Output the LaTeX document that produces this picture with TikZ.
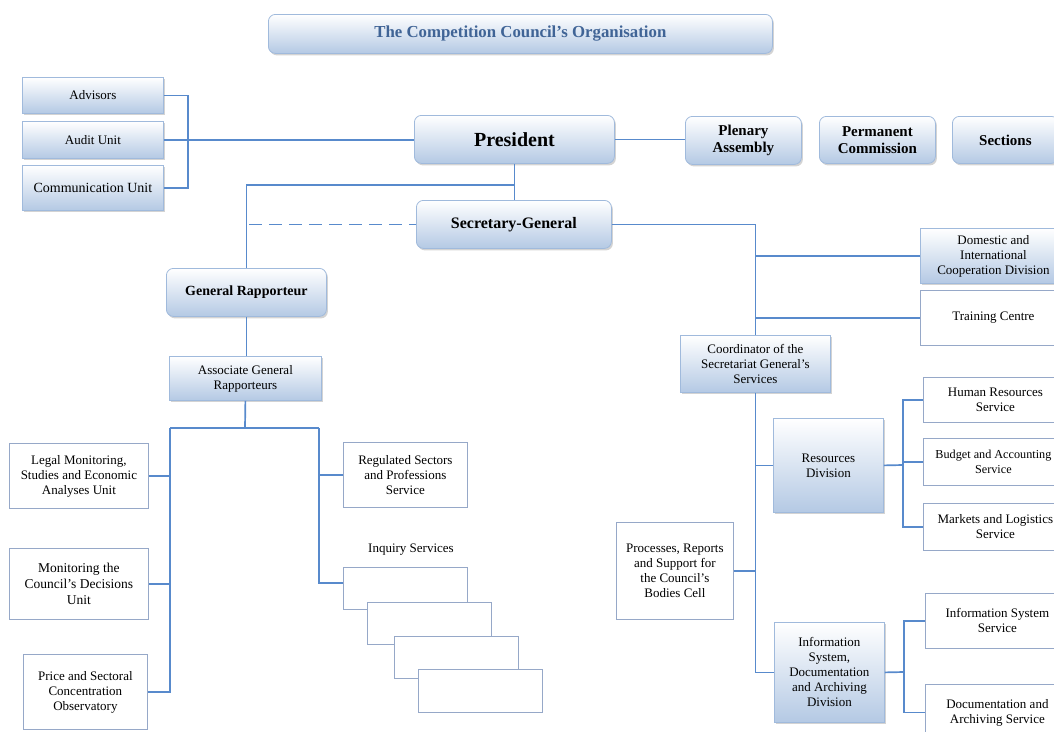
\documentclass[tikz,border=0pt]{standalone}
\usepackage{fontspec}
\setmainfont{Liberation Serif}
\usetikzlibrary{shadows}
\definecolor{linkblue}{RGB}{88,138,204}
\definecolor{boxedge}{RGB}{160,186,220}
\definecolor{boxfill}{RGB}{180,201,228}
\definecolor{plainedge}{RGB}{150,168,200}
\definecolor{titleblue}{RGB}{64,100,150}
\tikzset{every picture/.style={line width=0.75pt}}
\tikzset{
  link/.style={draw=linkblue, line width=1.7pt},
  boxsize/.style 2 args={minimum width=#1pt, minimum height=#2pt},
  shadebox/.style={draw=boxedge, line width=0.8pt, top color=white, bottom color=boxfill,
    drop shadow={shadow xshift=1.5pt, shadow yshift=-2pt, opacity=0.35},
    align=center, anchor=north west, inner sep=2pt, font=\fontsize{13}{15}\selectfont},
  roundbox/.style={shadebox, rounded corners=7pt, font=\bfseries\fontsize{15}{17}\selectfont},
  plainbox/.style={draw=plainedge, fill=white, line width=0.8pt,
    align=center, anchor=north west, inner sep=2pt, font=\fontsize{13}{15}\selectfont},
}
\begin{document}
\begin{tikzpicture}[x=1pt,y=-1pt]
    \clip (0,0) rectangle (1054,731);
    \node[roundbox, boxsize={504}{39}, text=titleblue, font=\bfseries\fontsize{16.8}{18}\selectfont] (title) at (268,14) {The Competition Council’s Organisation};
    \node[shadebox, boxsize={141}{36}] (adv) at (22,77) {Advisors};
    \node[shadebox, boxsize={141}{37}] (audit) at (22,121) {Audit Unit};
    \node[shadebox, boxsize={141}{45}, font=\fontsize{14}{16}\selectfont] (comm) at (22,165) {Communication Unit};
    \node[roundbox, boxsize={200}{48}, font=\bfseries\fontsize{20}{22}\selectfont] (pres) at (414,115) {President};
    \node[roundbox, boxsize={116}{48}] (plen) at (685,116) {Plenary\\Assembly};
    \node[roundbox, boxsize={116}{47}] (perm) at (819,116) {Permanent\\Commission};
    \node[roundbox, boxsize={106}{47}] (sect) at (952,116) {Sections};
    \node[roundbox, boxsize={195}{48}, font=\bfseries\fontsize{16}{18}\selectfont] (sg) at (416,200) {Secretary-General};
    \node[roundbox, boxsize={160}{48}, font=\bfseries\fontsize{14}{16}\selectfont] (gr) at (166,268) {General Rapporteur};
    \node[shadebox, boxsize={152}{44}] (agr) at (169,356) {Associate General\\Rapporteurs};
    \node[plainbox, boxsize={139}{65}] (legal) at (9,443) {Legal Monitoring,\\Studies and Economic\\Analyses Unit};
    \node[plainbox, boxsize={139}{71}, font=\fontsize{13.5}{16}\selectfont] (mon) at (9,548) {Monitoring the\\Council’s Decisions\\Unit};
    \node[plainbox, boxsize={124}{75}] (price) at (23,654) {Price and Sectoral\\Concentration\\Observatory};
    \node[plainbox, boxsize={124}{65}] (reg) at (343,442) {Regulated Sectors\\and Professions\\Service};
    \node[font=\fontsize{13}{15}\selectfont] (inqlabel) at (411,550) {Inquiry Services};
    \node[shadebox, boxsize={146}{55}] (dom) at (920,228) {Domestic and\\International\\Cooperation Division};
    \node[plainbox, boxsize={146}{55}] (train) at (920,290) {Training Centre};
    \node[shadebox, boxsize={150}{57}] (coord) at (680,335) {Coordinator of the\\Secretariat General’s\\Services};
    \node[plainbox, boxsize={144}{45}] (hr) at (923,377) {Human Resources\\Service};
    \node[plainbox, boxsize={140}{47}, font=\fontsize{12.2}{15}\selectfont] (bud) at (923,438) {Budget and Accounting\\Service};
    \node[plainbox, boxsize={144}{47}] (mkt) at (923,503) {Markets and Logistics\\Service};
    \node[shadebox, boxsize={110}{94}] (res) at (773,418) {Resources\\Division};
    \node[plainbox, boxsize={117}{97}] (proc) at (616,522) {Processes, Reports\\and Support for\\the Council’s\\Bodies Cell};
    \node[shadebox, boxsize={110}{100}] (isd) at (774,622) {Information\\System,\\Documentation\\and Archiving\\Division};
    \node[plainbox, boxsize={144}{55}] (iss) at (925,593) {Information System\\Service};
    \node[plainbox, boxsize={144}{56}] (das) at (925,684) {Documentation and\\Archiving Service};
    \coordinate (lb) at (188,139);
    \coordinate (pj) at (514,185);
    \coordinate (ab) at (245,428);
    \coordinate (lx) at (170,428);
    \coordinate (rx) at (319,428);
    \coordinate (rb) at (903,465);
    \coordinate (ib) at (904,672);
    \draw[link] (adv.east) -| (lb) |- (comm.east);
    \draw[link] (audit.east) -- (audit.east -| pres.west);
    \draw[link] (pres.east) -- (pres.east -| plen.west);
    \draw[link] (pres.south) -- (pres.south |- sg.north);
    \draw[link] (pj) -| (gr.north);
    \draw[link, dash pattern=on 13pt off 7pt] ([xshift=3pt]gr.north |- sg.west) -- (sg.west);
    \draw[link] (gr.south |- agr.north) -- (gr.south);
    \draw[link] (agr.south) -- (ab);
    \draw[link] (lx) -- (rx);
    \draw[link] (legal.east) -- (legal.east -| lx);
    \draw[link] (mon.east) -- (mon.east -| lx);
    \draw[link] (lx) |- (price.east);
    \draw[link] (reg.west) -- (reg.west -| rx);
    \draw[link] (rx) |- ([yshift=5pt]343,588);
    \draw[link] (sg.east) -| (coord.north);
    \draw[link] (dom.west) -- (dom.west -| coord.north);
    \draw[link] (train.west) -- (train.west -| coord.north);
    \draw[link] (coord.south) |- (isd.west);
    \draw[link] (res.west) -- (res.west -| coord.south);
    \draw[link] (proc.east) -- (proc.east -| coord.south);
    \draw[link] (res.east) -- (rb);
    \draw[link] (hr.west) -| (rb) |- (mkt.west);
    \draw[link] (bud.west) -- (bud.west -| rb);
    \draw[link] (isd.east) -- (ib);
    \draw[link] (iss.west) -| (ib) |- (das.west);
    \node[plainbox, boxsize={124}{42}] (inqa) at (343,567) {};
    \node[plainbox, boxsize={124}{42}] (inqb) at (367,602) {};
    \node[plainbox, boxsize={124}{42}] (inqc) at (394,636) {};
    \node[plainbox, boxsize={124}{43}] (inqd) at (418,669) {};
\end{tikzpicture}
\end{document}
